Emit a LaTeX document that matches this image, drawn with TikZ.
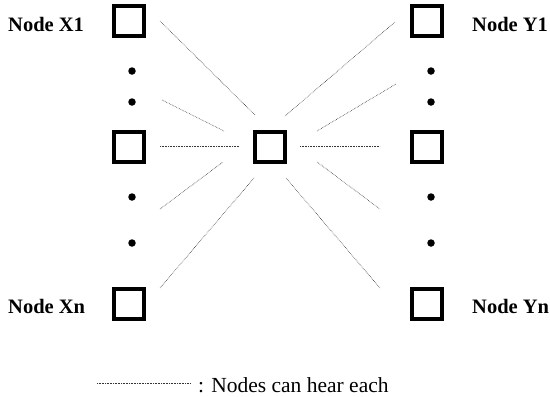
\documentclass[tikz,border=0pt]{standalone}
\usepackage{fontspec}
\setmainfont{Liberation Serif}
\begin{document}
\begin{tikzpicture}[x=1pt,y=-1pt,
  sq/.style={draw=black,line width=3.6pt,minimum size=30.5pt,inner sep=0pt,fill=white},
  pt/.style={circle,fill=black,inner sep=0pt,minimum size=7.5pt},
  lbl/.style={font=\fontsize{20.5}{24}\selectfont\bfseries,anchor=base west,inner sep=0pt},
  hear/.style={draw=black!80,densely dotted,line width=0.6pt}]
\useasboundingbox (0,0) rectangle (550,397);
% squares
\node[sq] (x1) at (129,21) {};
\node[sq] (xm) at (129,147) {};
\node[sq] (xn) at (129,304) {};
\node[sq] (c)  at (270,147) {};
\node[sq] (y1) at (427,21) {};
\node[sq] (ym) at (427,147) {};
\node[sq] (yn) at (427,304) {};
% dots
\node[pt] (dl1) at (132,71) {};
\node[pt] (dl2) at (132,102) {};
\node[pt] (dl3) at (132,197) {};
\node[pt] (dl4) at (132,243) {};
\node[pt] (dr1) at (431,71) {};
\node[pt] (dr2) at (431,102) {};
\node[pt] (dr3) at (431,197) {};
\node[pt] (dr4) at (431,243) {};
% labels
\node[lbl] (lx1) at (8,31) {Node X1};
\node[lbl] (lxn) at (8,313) {Node Xn};
\node[lbl] (ly1) at (472,31) {Node Y1};
\node[lbl] (lyn) at (472,313) {Node Yn};
% line end coordinates
\coordinate (a1) at (160,21);  \coordinate (b1) at (255,115);
\coordinate (a2) at (162,100); \coordinate (b2) at (224,131);
\coordinate (a3) at (160,146); \coordinate (b3) at (239,146);
\coordinate (a4) at (160,209); \coordinate (b4) at (223,162);
\coordinate (a5) at (160,288); \coordinate (b5) at (254,178);
\coordinate (e1) at (395,22);  \coordinate (f1) at (285,116);
\coordinate (e2) at (396,84);  \coordinate (f2) at (317,131);
\coordinate (e3) at (380,146); \coordinate (f3) at (300,146);
\coordinate (e4) at (380,209); \coordinate (f4) at (317,162);
\coordinate (e5) at (380,288); \coordinate (f5) at (286,178);
\foreach \i in {1,...,5}{
  \draw[hear] (a\i) -- (b\i);
  \draw[hear] (f\i) -- (e\i);
}
% legend
\coordinate (lg1) at (97,383);
\coordinate (lg2) at (190,383);
\draw[hear] (lg1) -- (lg2);
\node[font=\fontsize{21.5}{24}\selectfont,anchor=base west,inner sep=0pt] (legend) at (198,392) {: Nodes can hear each};
\end{tikzpicture}
\end{document}
